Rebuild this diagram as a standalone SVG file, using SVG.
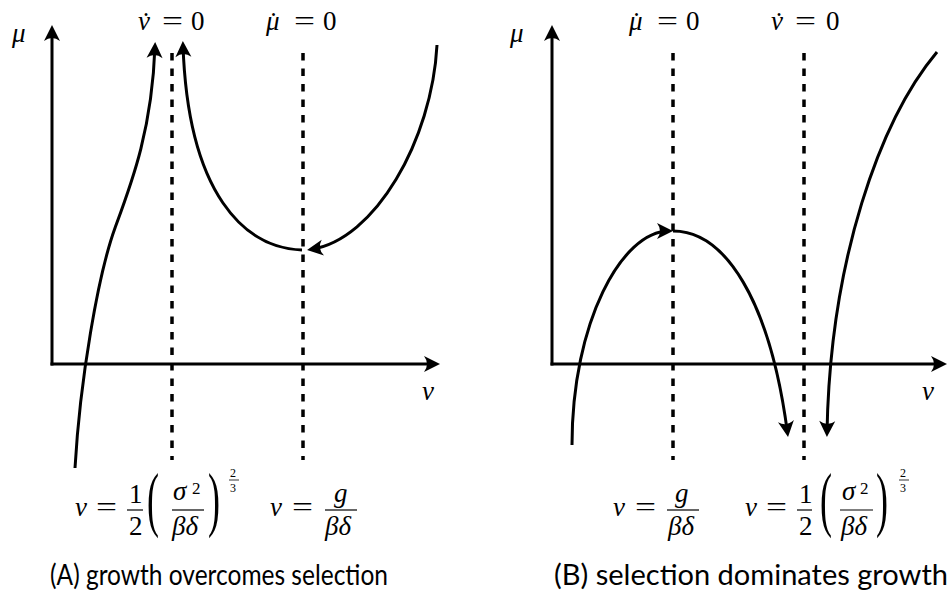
<svg xmlns="http://www.w3.org/2000/svg" width="951" height="608" viewBox="0 0 951 608">
<style>
.ax{fill:none;stroke:#000;stroke-width:3}
.cv{fill:none;stroke:#000;stroke-width:3}
.dash{fill:none;stroke:#000;stroke-width:3.5;stroke-dasharray:7.5 8}
.m{font-family:"Liberation Serif","DejaVu Serif",serif;font-style:italic;font-size:27px;fill:#000}
.r{font-family:"Liberation Serif","DejaVu Serif",serif;font-size:27px;fill:#000}
.dot{font-style:normal}
.rs{font-family:"Liberation Serif","DejaVu Serif",serif;font-size:17px;fill:#000}
.rx{font-family:"Liberation Serif","DejaVu Serif",serif;font-size:12px;fill:#000}
.cap{font-family:Lato,"Open Sans","DejaVu Sans",sans-serif;font-size:29px;fill:#000}
.bar{stroke:#000;stroke-width:1.2}
</style>
<defs>
<marker id="ah" markerUnits="userSpaceOnUse" markerWidth="22" markerHeight="22" viewBox="-19 -11 22 22" refX="-4" refY="0" orient="auto">
<path d="M0,0 L-16,-8 Q-10,0 -16,8 Z" fill="#000"/>
</marker>
</defs>
<rect width="951" height="608" fill="#fff"/>

<g id="panel-a">
  <g id="a-axes">
    <path class="ax" d="M52,365.5 V29" marker-end="url(#ah)"/>
    <path class="ax" d="M50.5,364 H436" marker-end="url(#ah)"/>
    <text class="m" x="12" y="42">μ</text>
    <text class="m" x="422" y="400">ν</text>
  </g>
  <g id="a-nullclines">
    <path class="dash" d="M172,53 V460"/>
    <path class="dash" d="M303,53 V460"/>
  </g>
  <g id="a-trajectories">
    <path class="cv" d="M75,468 C80,380 98,275 115,228 C132,182 152,130 155,46" marker-end="url(#ah)"/>
    <path class="cv" d="M302,250 C245,248 188,195 183,45" marker-end="url(#ah)"/>
    <path class="cv" d="M437,45 C432,140 375,240 311,249.4" marker-end="url(#ah)"/>
  </g>
  <g id="a-top-labels">
    <text class="m" x="138" y="30">ν<tspan class="dot" dx="-8.5" dy="1">˙</tspan></text>
    <text class="r" x="162" y="30" textLength="21" lengthAdjust="spacingAndGlyphs">=</text>
    <text class="r" x="191" y="30">0</text>
    <text class="m" x="266" y="30">μ<tspan class="dot" dx="-10.5" dy="1">˙</tspan></text>
    <text class="r" x="294" y="30" textLength="21" lengthAdjust="spacingAndGlyphs">=</text>
    <text class="r" x="323" y="30">0</text>
  </g>
  <g id="a-bottom-labels">
    <text class="m" x="75" y="516">ν</text>
    <text class="r" x="96" y="516" textLength="21" lengthAdjust="spacingAndGlyphs">=</text>
    <text class="r" x="129" y="503">1</text>
    <line class="bar" x1="127" y1="510" x2="143" y2="510"/>
    <text class="r" x="129" y="535">2</text>
    <text class="r" transform="translate(147,523) scale(0.5,1)" style="font-size:72px">(</text>
    <text class="m" x="173" y="500">σ</text>
    <text class="rs" x="192" y="494">2</text>
    <line class="bar" x1="172" y1="510" x2="204" y2="510"/>
    <text class="m" x="172" y="535">βδ</text>
    <text class="r" transform="translate(208,523) scale(0.5,1)" style="font-size:72px">)</text>
    <text class="rx" x="230" y="477">2</text>
    <line class="bar" x1="229" y1="480" x2="239" y2="480" style="stroke-width:0.8"/>
    <text class="rx" x="230" y="492">3</text>

    <text class="m" x="270" y="516">ν</text>
    <text class="r" x="292" y="516" textLength="21" lengthAdjust="spacingAndGlyphs">=</text>
    <text class="m" x="334" y="502">g</text>
    <line class="bar" x1="325" y1="510" x2="357" y2="510"/>
    <text class="m" x="325" y="535">βδ</text>
  </g>
  <text id="a-caption" class="cap" x="50" y="585" textLength="338" lengthAdjust="spacingAndGlyphs">(A) growth overcomes selection</text>
</g>

<g id="panel-b">
  <g id="b-axes">
    <path class="ax" d="M552,365.5 V29" marker-end="url(#ah)"/>
    <path class="ax" d="M550.5,364 H943" marker-end="url(#ah)"/>
    <text class="m" x="510" y="42">μ</text>
    <text class="m" x="922" y="400">ν</text>
  </g>
  <g id="b-nullclines">
    <path class="dash" d="M673,53 V460"/>
    <path class="dash" d="M804,53 V460"/>
  </g>
  <g id="b-trajectories">
    <path class="cv" d="M572,445 C572,322 622,231 669,231" marker-end="url(#ah)"/>
    <path class="cv" d="M673,231 C725,231 770,300 787.5,433" marker-end="url(#ah)"/>
    <path class="cv" d="M937,52 C880,120 830,260 827,433" marker-end="url(#ah)"/>
  </g>
  <g id="b-top-labels">
    <text class="m" x="629" y="30">μ<tspan class="dot" dx="-10.5" dy="1">˙</tspan></text>
    <text class="r" x="657" y="30" textLength="21" lengthAdjust="spacingAndGlyphs">=</text>
    <text class="r" x="686" y="30">0</text>
    <text class="m" x="771" y="30">ν<tspan class="dot" dx="-8.5" dy="1">˙</tspan></text>
    <text class="r" x="795" y="30" textLength="21" lengthAdjust="spacingAndGlyphs">=</text>
    <text class="r" x="826" y="30">0</text>
  </g>
  <g id="b-bottom-labels">
    <text class="m" x="613" y="516">ν</text>
    <text class="r" x="635" y="516" textLength="21" lengthAdjust="spacingAndGlyphs">=</text>
    <text class="m" x="675" y="502">g</text>
    <line class="bar" x1="667" y1="510" x2="699" y2="510"/>
    <text class="m" x="668" y="535">βδ</text>

    <text class="m" x="745" y="516">ν</text>
    <text class="r" x="766" y="516" textLength="21" lengthAdjust="spacingAndGlyphs">=</text>
    <text class="r" x="799" y="503">1</text>
    <line class="bar" x1="797" y1="510" x2="812" y2="510"/>
    <text class="r" x="799" y="535">2</text>
    <text class="r" transform="translate(820,523) scale(0.5,1)" style="font-size:72px">(</text>
    <text class="m" x="842" y="500">σ</text>
    <text class="rs" x="860" y="494">2</text>
    <line class="bar" x1="840" y1="510" x2="873" y2="510"/>
    <text class="m" x="841" y="535">βδ</text>
    <text class="r" transform="translate(876,523) scale(0.5,1)" style="font-size:72px">)</text>
    <text class="rx" x="900" y="477">2</text>
    <line class="bar" x1="899" y1="480" x2="909" y2="480" style="stroke-width:0.8"/>
    <text class="rx" x="900" y="492">3</text>
  </g>
  <text id="b-caption" class="cap" x="554" y="585" textLength="394" lengthAdjust="spacingAndGlyphs">(B) selection dominates growth</text>
</g>
</svg>
